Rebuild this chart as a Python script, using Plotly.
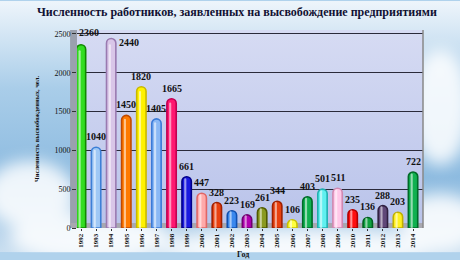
import base64
import plotly.graph_objects as go

years = [str(y) for y in range(1992, 2015)]
values = [2360, 1040, 2440, 1450, 1820, 1405, 1665, 661, 447, 328, 223, 169,
          261, 344, 106, 403, 501, 511, 235, 136, 288, 203, 722]
fill_colors = ["#33dd22", "#9fc8f5", "#d9c6e8", "#ff7a00", "#fff200", "#8ab8f5",
               "#ff1870", "#1a1ae0", "#ffaaaa", "#e84010", "#3a88ee", "#b000b0",
               "#8a9a20", "#e84010", "#ffff40", "#10b050", "#60f0f0", "#ffc8e8",
               "#ff1010", "#10a040", "#604878", "#fff020", "#10b050"]
line_colors = ["#118800", "#3d7fd6", "#9a7ab0", "#c04a00", "#c8b800", "#3a7ad8",
               "#c00050", "#00008a", "#e06666", "#a02000", "#1050b0", "#700070",
               "#505a00", "#a02000", "#c8c000", "#006a28", "#20b0b0", "#d088b0",
               "#b00000", "#006020", "#302040", "#c0b000", "#006a28"]
title = "Численность работников, заявленных на высвобождение предприятиями"
y_title = "Численность высвобожденных, чел."
x_title = "Год"

# label pixel offsets for the two tallest bars (style only)
label_shift = {"1992": (8, 2), "1994": (18, -14)}

svg = """<svg xmlns='http://www.w3.org/2000/svg' width='460' height='260'>
<defs>
<linearGradient id='g' x1='0' y1='0' x2='0' y2='1'>
<stop offset='0' stop-color='#eef5fb'/><stop offset='0.35' stop-color='#a9cde9'/>
<stop offset='0.7' stop-color='#8dbbe0'/><stop offset='1' stop-color='#c9def0'/>
</linearGradient>
<linearGradient id='p' x1='0' y1='0' x2='0' y2='1'>
<stop offset='0' stop-color='#d6dbf3'/><stop offset='1' stop-color='#b9c3ea'/>
</linearGradient>
<filter id='b'><feGaussianBlur stdDeviation='8'/></filter>
</defs>
<rect width='460' height='260' fill='url(#g)'/>
<g filter='url(#b)' fill='#ffffff' opacity='0.85'>
<ellipse cx='30' cy='200' rx='45' ry='35'/>
<ellipse cx='90' cy='245' rx='80' ry='25'/>
<ellipse cx='300' cy='255' rx='140' ry='18'/>
<ellipse cx='440' cy='110' rx='30' ry='60'/>
<ellipse cx='440' cy='230' rx='40' ry='30'/>
</g>
<rect x='77' y='30' width='346' height='205' fill='url(#p)'/>
</svg>"""
bg_uri = "data:image/svg+xml;base64," + base64.b64encode(svg.encode()).decode()

fig = go.Figure()
fig.add_trace(go.Bar(
    x=years, y=values, width=0.62,
    marker=dict(color=fill_colors, line=dict(color=line_colors, width=1.6),
                cornerradius="50%"),
    hoverinfo="skip",
))
fig.add_trace(go.Bar(
    x=years, y=[v * 0.97 for v in values], width=0.14, offset=-0.16,
    marker=dict(color="rgba(255,255,255,0.55)", line=dict(width=0),
                cornerradius="50%"),
    hoverinfo="skip",
))

annotations = []
for i, (yr, v) in enumerate(zip(years, values)):
    dx, dy = label_shift.get(yr, (0, 0))
    annotations.append(dict(
        x=i, y=v, xref="x", yref="y", text="<b>" + str(v) + "</b>",
        showarrow=False, yanchor="bottom", yshift=3 + dy, xshift=dx,
        font=dict(family="Liberation Serif", size=10, color="#111111")))
annotations.append(dict(
    text="<b>" + x_title + "</b>", xref="paper", yref="paper", x=0.48, y=-0.1,
    showarrow=False, yanchor="top",
    font=dict(family="Liberation Serif", size=8, color="#111111")))

fig.update_layout(
    width=460, height=260,
    margin=dict(l=77, r=37, t=30, b=25),
    barmode="overlay", showlegend=False,
    paper_bgcolor="#b0d2ec",
    plot_bgcolor="rgba(0,0,0,0)",
    images=[dict(source=bg_uri, xref="paper", yref="paper", x=-77/346, y=1 + 30/205,
                 sizex=460/346, sizey=260/205, xanchor="left", yanchor="top",
                 sizing="stretch", layer="below")],
    title=dict(text="<b>" + title + "</b>", x=0.515, xanchor="center", y=0.955,
               yanchor="middle",
               font=dict(family="Liberation Serif", size=12, color="#111133")),
    font=dict(family="Liberation Serif", color="#111111"),
    shapes=[
        dict(type="rect", xref="paper", yref="paper", x0=-0.02, x1=0, y0=0, y1=1.0,
             fillcolor="#9aa0ae", line=dict(width=0), layer="below"),
        dict(type="rect", xref="paper", yref="paper", x0=-0.02, x1=1, y0=0, y1=0.025,
             fillcolor="#a8a8b0", line=dict(width=0), layer="below"),
        dict(type="line", xref="paper", yref="paper", x0=1, x1=1, y0=0, y1=1,
             line=dict(color="#888", width=1.5)),
    ],
    annotations=annotations,
)
fig.update_xaxes(type="category", range=[-0.265, 22.66], tickangle=-90, showgrid=False,
                 tickfont=dict(family="Liberation Serif", size=7, color="#111111"),
                 ticks="outside", ticklen=2, tickcolor="#333", showline=False,
                 tickprefix="<b>", ticksuffix="</b>")
fig.update_yaxes(range=[0, 2550], tickvals=[0, 500, 1000, 1500, 2000, 2500],
                 showgrid=True, gridcolor="#2a2a3a", gridwidth=1, zeroline=False,
                 ticks="outside", ticklen=4, tickcolor="#333",
                 tickfont=dict(family="Liberation Serif", size=8, color="#111111"),
                 tickprefix="<b>", ticksuffix="</b>",
                 title=dict(text="<b>" + y_title + "</b>", standoff=14,
                            font=dict(family="Liberation Serif", size=6.5, color="#111111")))

fig.write_html("out.html")
